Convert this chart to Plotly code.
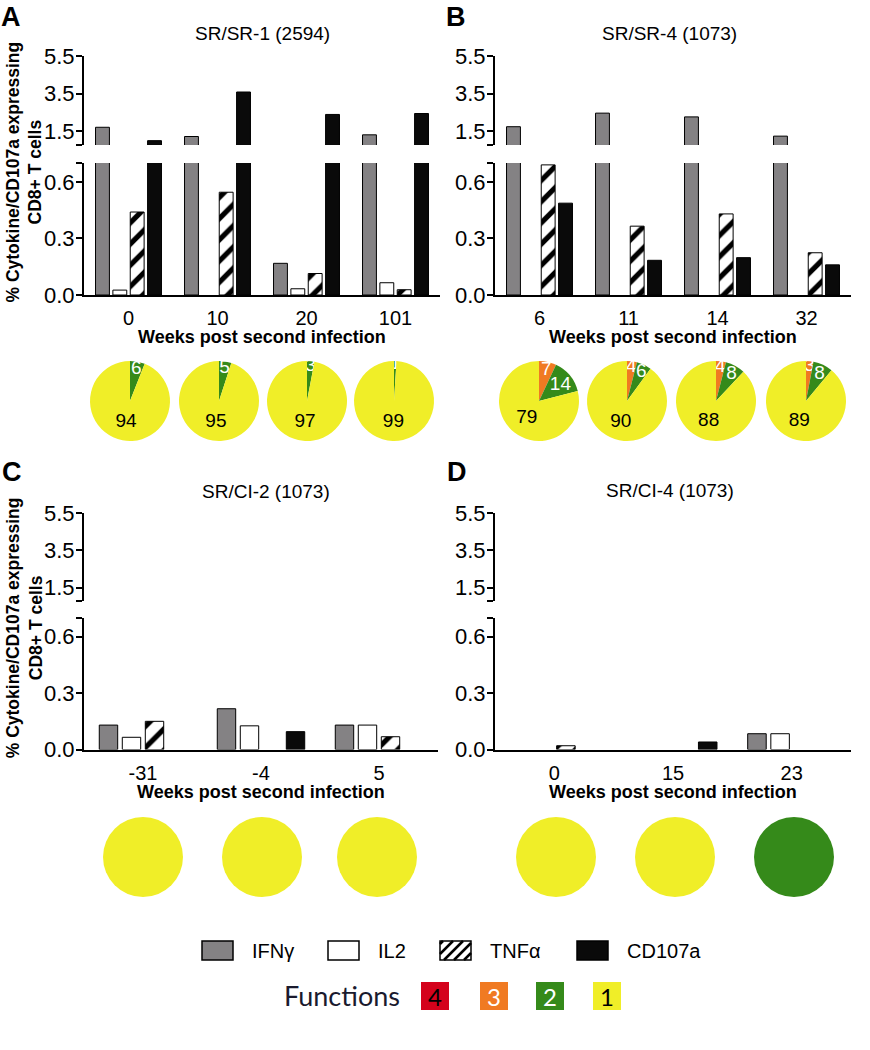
import plotly.graph_objects as go

W, H = 870, 1050
FONT = "Liberation Sans"

# ---------------- data ----------------
series_names = ["IFNγ", "IL2", "TNFα", "CD107a"]

weeks_A = ["0", "10", "20", "101"]
ifn_A = [1.72, 1.23, 0.168, 1.32]
il2_A = [0.026, 0, 0.033, 0.065]
tnf_A = [0.44, 0.545, 0.114, 0.028]
cd107a_A = [1.01, 3.59, 2.40, 2.45]

weeks_B = ["6", "11", "14", "32"]
ifn_B = [1.75, 2.47, 2.27, 1.25]
il2_B = [0, 0, 0, 0]
tnf_B = [0.69, 0.365, 0.43, 0.224]
cd107a_B = [0.487, 0.184, 0.198, 0.16]

weeks_C = ["-31", "-4", "5"]
ifn_C = [0.13, 0.217, 0.13]
il2_C = [0.065, 0.126, 0.13]
tnf_C = [0.15, 0, 0.068]
cd107a_C = [0, 0.095, 0]

weeks_D = ["0", "15", "23"]
ifn_D = [0, 0, 0.084]
il2_D = [0, 0, 0.084]
tnf_D = [0.02, 0, 0]
cd107a_D = [0, 0.04, 0]

# pie percentages per time point: [4 functions, 3, 2, 1]
function_levels = ["4", "3", "2", "1"]
pies_A = [[0, 0, 6, 94], [0, 0, 5, 95], [0, 0, 3, 97], [0, 0, 1, 99]]
pies_B = [[0, 7, 14, 79], [0, 4, 6, 90], [0, 4, 8, 88], [0, 3, 8, 89]]
pies_C = [[0, 0, 0, 100], [0, 0, 0, 100], [0, 0, 0, 100]]
pies_D = [[0, 0, 0, 100], [0, 0, 0, 100], [0, 0, 100, 0]]

titles = ["SR/SR-1 (2594)", "SR/SR-4 (1073)", "SR/CI-2 (1073)", "SR/CI-4 (1073)"]
letters = ["A", "B", "C", "D"]
low_ticks = [0.0, 0.3, 0.6]
up_ticks = [1.5, 3.5, 5.5]
low_top = 0.7     # top of the lower (broken) axis segment
up_bottom = 0.78  # bottom of the upper axis segment
up_top = 5.5

# ---------------- styles ----------------
GRAY = "#848284"
BLACK = "#0a0a0a"
FUNC_COLORS = {"4": "#d4021c", "3": "#f07a22", "2": "#358a1a", "1": "#f0ee28"}
FUNC_TEXT = {"4": "black", "3": "white", "2": "white", "1": "black"}

bar_styles = [
    dict(color=GRAY),
    dict(color="white"),
    dict(color="white", pattern=dict(shape="/", fgcolor="black", bgcolor="white", size=15, solidity=0.35)),
    dict(color=BLACK),
]


def px(x):
    return x / W


def py(y):
    return 1 - y / H


panels = [
    dict(weeks=weeks_A, series=[ifn_A, il2_A, tnf_A, cd107a_A], pies=pies_A,
         xd=(84, 440), low=(163, 295), up=(56, 145),
         pie_cx=[130, 219, 307, 394], pie_cy=401, title_xy=(262, 33), letter_x=11),
    dict(weeks=weeks_B, series=[ifn_B, il2_B, tnf_B, cd107a_B], pies=pies_B,
         xd=(495, 851), low=(163, 295), up=(56, 145),
         pie_cx=[539, 627, 716, 806], pie_cy=401, title_xy=(669, 33), letter_x=456),
    dict(weeks=weeks_C, series=[ifn_C, il2_C, tnf_C, cd107a_C], pies=pies_C,
         xd=(84, 438), low=(618, 749.5), up=(513, 601),
         pie_cx=[143, 262, 377], pie_cy=857, title_xy=(266, 491), letter_x=12),
    dict(weeks=weeks_D, series=[ifn_D, il2_D, tnf_D, cd107a_D], pies=pies_D,
         xd=(495, 851), low=(618, 749.5), up=(513, 601),
         pie_cx=[556, 675, 794], pie_cy=857, title_xy=(670, 490), letter_x=457),
]

fig = go.Figure()
layout = {}
annotations = []
shapes = []

for i, p in enumerate(panels):
    xi = i + 1
    ylo = i + 1
    yup = i + 5
    xname = "x" if xi == 1 else f"x{xi}"
    ylo_name = "y" if ylo == 1 else f"y{ylo}"
    yup_name = f"y{yup}"
    for style, vals, name in zip(bar_styles, p["series"], series_names):
        shown = [v if v > 0 else None for v in vals]  # no bar drawn where nothing was detected
        for yname in (ylo_name, yup_name):
            fig.add_trace(go.Bar(
                x=p["weeks"], y=shown, name=name, xaxis=xname, yaxis=yname,
                marker=dict(line=dict(color="black", width=1), **style),
                showlegend=False, hoverinfo="x+y+name"))
    axis_common = dict(showline=True, linecolor="black", linewidth=2, showgrid=False,
                       zeroline=False, fixedrange=True, automargin=False)
    layout["xaxis" if xi == 1 else f"xaxis{xi}"] = dict(
        domain=[px(p["xd"][0]), px(p["xd"][1])], anchor=ylo_name, type="category",
        ticks="", ticklabelstandoff=4,
        tickfont=dict(family=FONT, size=20, color="black"), **axis_common)
    layout["yaxis" if ylo == 1 else f"yaxis{ylo}"] = dict(
        domain=[py(p["low"][1]), py(p["low"][0])], anchor=xname, range=[0, low_top],
        tickvals=low_ticks + [low_top], ticktext=[f"{v:.1f}" for v in low_ticks] + [""],
        ticks="outside", ticklen=6, tickwidth=2, tickcolor="black", ticklabelstandoff=-3,
        tickfont=dict(family=FONT, size=22, color="black"), **axis_common)
    layout[f"yaxis{yup}"] = dict(
        domain=[py(p["up"][1]), py(p["up"][0])], anchor=xname, range=[up_bottom, up_top],
        tickvals=[up_bottom] + up_ticks, ticktext=[""] + [f"{v:.1f}" for v in up_ticks],
        ticks="outside", ticklen=6, tickwidth=2, tickcolor="black", ticklabelstandoff=-3,
        tickfont=dict(family=FONT, size=22, color="black"), **axis_common)

    # pies
    for cx, vals in zip(p["pie_cx"], p["pies"]):
        keep = [(lvl, v) for lvl, v in zip(function_levels, vals) if v > 0]
        r = 40
        fig.add_trace(go.Pie(
            values=[v for _, v in keep],
            labels=[lvl for lvl, _ in keep],
            marker=dict(colors=[FUNC_COLORS[l] for l, _ in keep], line=dict(width=0)),
            domain=dict(x=[px(cx - r), px(cx + r)], y=[py(p["pie_cy"] + r), py(p["pie_cy"] - r)]),
            sort=False, direction="clockwise", rotation=0,
            textinfo="value" if len(keep) > 1 else "none",
            textposition="inside", insidetextorientation="horizontal",
            insidetextfont=dict(family=FONT, size=19, color=[FUNC_TEXT[l] for l, _ in keep]),
            hoverinfo="label+value", showlegend=False, automargin=False))

    # texts
    tx, ty = p["title_xy"]
    annotations.append(dict(text=titles[i], x=px(tx), y=py(ty), xref="paper", yref="paper",
                            showarrow=False, xanchor="center", yanchor="middle",
                            font=dict(family=FONT, size=19, color="black")))
    if i < 2:
        annotations.append(dict(text=f"<b>{letters[i]}</b>", x=px(p["letter_x"]), y=1,
                                xref="paper", yref="paper", showarrow=False,
                                xanchor="center", yanchor="top",
                                font=dict(family=FONT, size=27, color="black")))
    else:
        annotations.append(dict(text=f"<b>{letters[i]}</b>", x=px(p["letter_x"]), y=py(472),
                                xref="paper", yref="paper", showarrow=False,
                                xanchor="center", yanchor="middle",
                                font=dict(family=FONT, size=27, color="black")))
    annotations.append(dict(text="<b>Weeks post second infection</b>",
                            x=px((p["xd"][0] + p["xd"][1]) / 2), y=py(p["low"][1] + 42),
                            xref="paper", yref="paper", showarrow=False,
                            xanchor="center", yanchor="middle",
                            font=dict(family=FONT, size=18, color="black")))
    if i in (0, 2):
        annotations.append(dict(text="<b>% Cytokine/CD107a expressing<br>CD8+ T cells</b>",
                                x=px(24), y=py((p["up"][0] + p["low"][1]) / 2 - 3),
                                xref="paper", yref="paper", showarrow=False, textangle=-90,
                                xanchor="center", yanchor="middle",
                                font=dict(family=FONT, size=17.5, color="black")))

# ---------------- legend ----------------
leg_box_x = [202, 328, 440, 577]
leg_y0, leg_y1 = 941, 960
leg_fill = [GRAY, "white", "white", BLACK]
for name, bx, fill in zip(series_names, leg_box_x, leg_fill):
    shapes.append(dict(type="rect", xref="paper", yref="paper", x0=px(bx), x1=px(bx + 31),
                       y0=py(leg_y1), y1=py(leg_y0), fillcolor=fill,
                       line=dict(color="black", width=1.5)))
    annotations.append(dict(text=name, x=px(bx + 48), y=py((leg_y0 + leg_y1) / 2),
                            xref="paper", yref="paper", showarrow=False,
                            xanchor="left", yanchor="middle",
                            font=dict(family=FONT, size=20, color="black")))
# hatch lines for TNFα legend box
hx0 = leg_box_x[2]
bw, bh, step = 31, 19, 10
path = ""
c = -bh + 3
while c < bw:
    u0, u1 = max(0, c), min(bw, bh + c)
    if u1 > u0:
        xa, ya = hx0 + u0, leg_y1 - (u0 - c)
        xb, yb = hx0 + u1, leg_y1 - (u1 - c)
        path += f"M{px(xa)},{py(ya)} L{px(xb)},{py(yb)} "
    c += step
shapes.append(dict(type="path", xref="paper", yref="paper", path=path,
                   line=dict(color="black", width=2.5)))

annotations.append(dict(text="Functions", x=px(342), y=py(995), xref="paper", yref="paper",
                        showarrow=False, xanchor="center", yanchor="middle",
                        font=dict(family="Lato", size=27, color="#1a1a2e")))
func_box_cx = [434.5, 493.5, 549.5, 606.5]
for lvl, cx in zip(function_levels, func_box_cx):
    annotations.append(dict(text=lvl, x=px(cx), y=py(995.5), xref="paper", yref="paper",
                            showarrow=False, xanchor="center", yanchor="middle",
                            width=26, height=26, bgcolor=FUNC_COLORS[lvl], borderpad=0,
                            bordercolor=FUNC_COLORS[lvl], borderwidth=1,
                            font=dict(family="Lato", size=24, color=FUNC_TEXT[lvl])))

fig.update_layout(
    template="none",
    width=W, height=H, margin=dict(l=0, r=0, t=0, b=0, pad=0),
    paper_bgcolor="white", plot_bgcolor="white",
    barmode="group", bargap=0.22, bargroupgap=0.2,
    uniformtext=dict(minsize=16, mode="show"),
    annotations=annotations, shapes=shapes, showlegend=False,
    font=dict(family=FONT, color="black"),
    **layout)

fig.write_html("out.html", config={"displayModeBar": False},
               post_script="document.body.style.margin='0';")
